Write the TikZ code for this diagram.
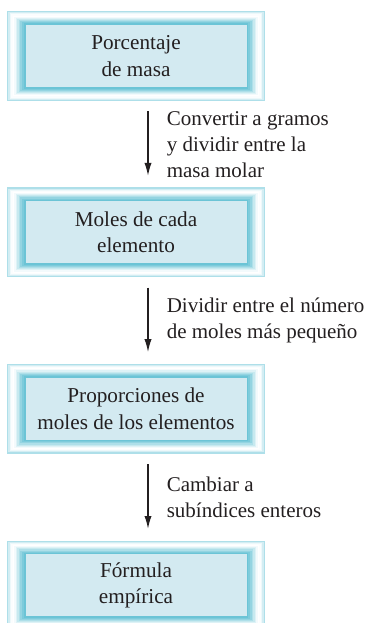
\documentclass[tikz,border=0pt]{standalone}
\usepackage{fontspec}
\setmainfont{Liberation Serif}
\usetikzlibrary{arrows.meta,calc,positioning,backgrounds}
\definecolor{rim}{HTML}{6BC4D6}
\definecolor{panel}{HTML}{D3EAF1}
\definecolor{ink}{HTML}{231F20}

\begin{document}
\begin{tikzpicture}[
  >=Latex,
  stage/.style={rectangle,fill=panel,minimum width=110.5pt,minimum height=31pt,
    inner sep=0pt,align=center,text=ink,font=\fontsize{10.6}{13.3}\selectfont},
  flow/.style={-{Latex[length=6.5pt,width=3.6pt]},line width=0.75pt,draw=ink,
    shorten <=12pt,shorten >=12.5pt},
  note/.style={anchor=west,xshift=9pt,inner sep=0pt,align=left,text=ink,
    font=\fontsize{10.5}{13}\selectfont}
]
  \useasboundingbox (0,0) rectangle (184pt,-311.5pt);
  \node[stage] (masa) at (68pt,-28pt) {Porcentaje\\de masa};
  \node[stage,below=56.75pt of masa] (moles) {Moles de cada\\elemento};
  \node[stage,below=56.75pt of moles] (prop) {Proporciones de\\moles de los elementos};
  \node[stage,below=57pt of prop] (formula) {Fórmula\\empírica};

  % shaded frame round each box
  \begin{scope}[on background layer]
    \foreach \n in {masa,moles,prop,formula}
      \foreach \p [count=\i from 0] in {55,30,12,3,0,8,22,38,55,72,88,100}
        \fill[rim!\p!white] ($(\n.south west)+(-9.25pt+\i*0.77pt,-6.75pt+\i*0.56pt)$)
          rectangle ($(\n.north east)+(9.25pt-\i*0.77pt,6.75pt-\i*0.56pt)$);
  \end{scope}

  \draw[flow] ([xshift=6pt]masa.south) -- node[note] (grams)
    {Convertir a gramos\\y dividir entre la\\masa molar} ([xshift=6pt]moles.north);
  \draw[flow] ([xshift=6pt]moles.south) -- node[note] (divide)
    {Dividir entre el número\\de moles más pequeño} ([xshift=6pt]prop.north);
  \draw[flow] ([xshift=6pt]prop.south) -- node[note] (whole)
    {Cambiar a\\subíndices enteros} ([xshift=6pt]formula.north);
\end{tikzpicture}
\end{document}
